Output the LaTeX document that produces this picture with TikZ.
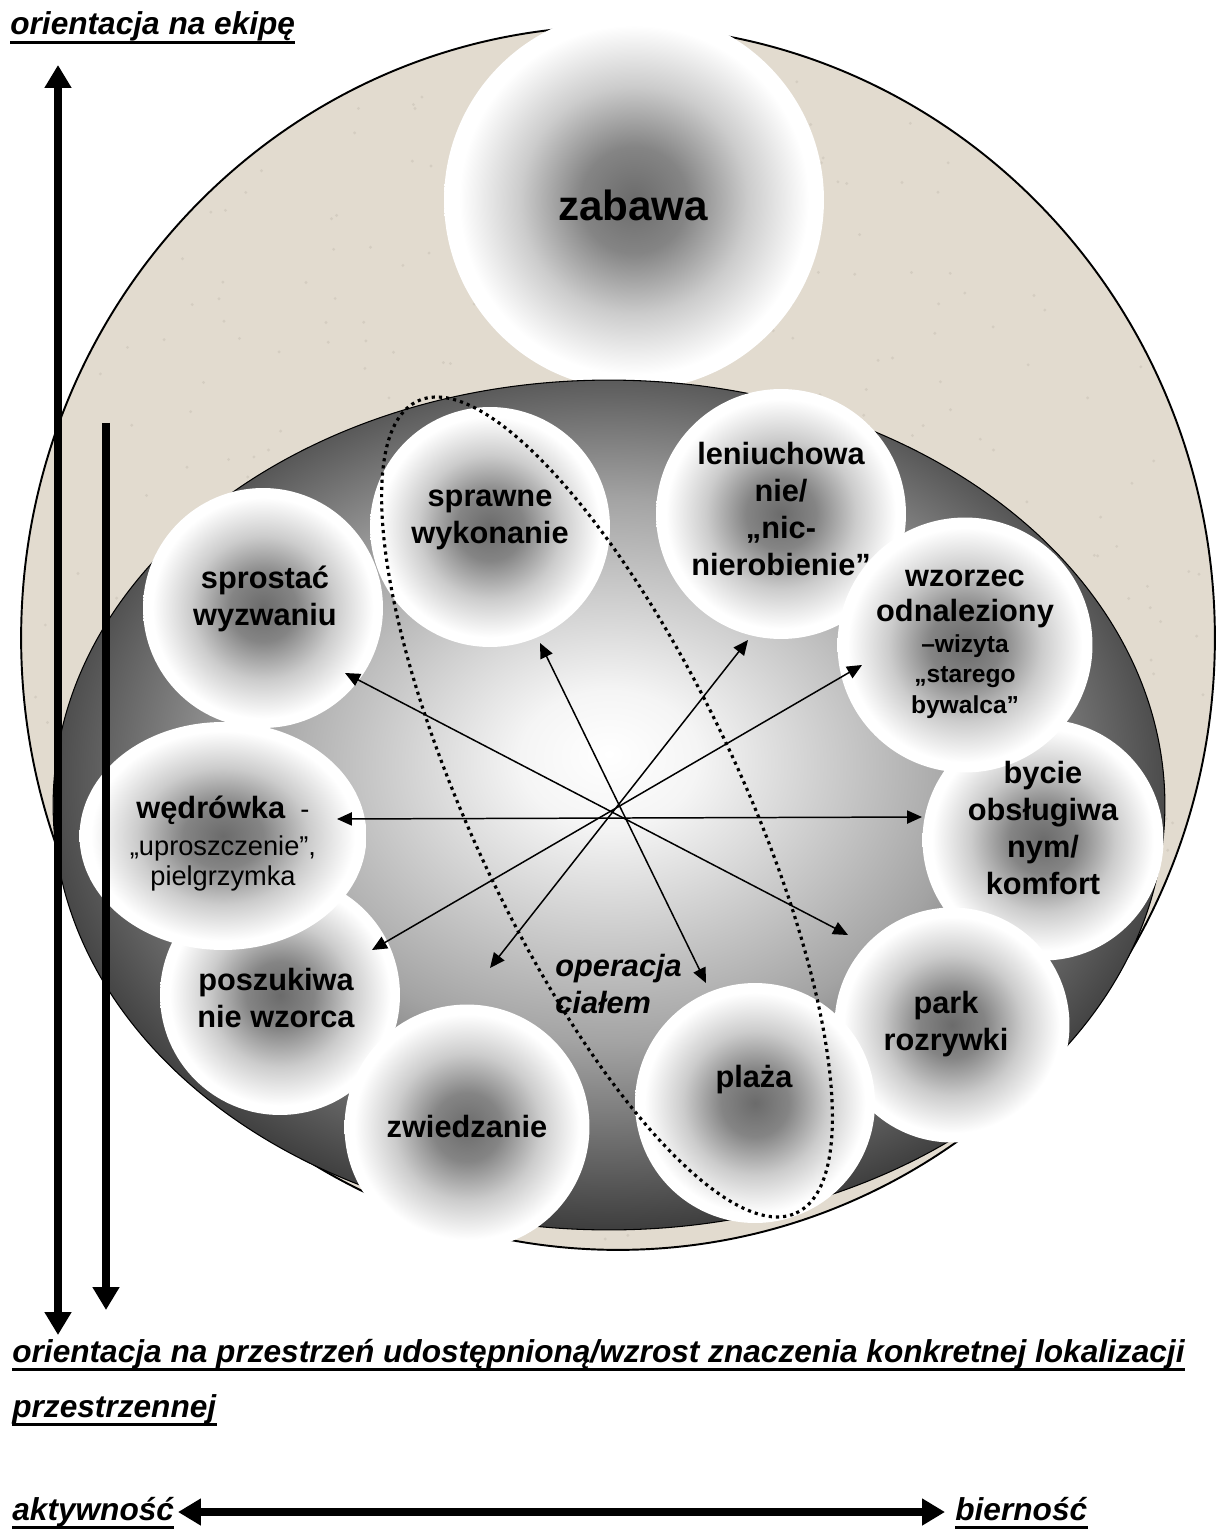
\documentclass[tikz,border=0pt]{standalone}
\usepackage{fontspec}
\setmainfont{Liberation Sans}
\usetikzlibrary{shapes.geometric,arrows.meta}
\definecolor{sand}{RGB}{226,219,207}
\definecolor{speck}{RGB}{196,188,176}
\pgfdeclareradialshading{ballshade}{\pgfpoint{0bp}{0bp}}{color(0bp)=(black!58); color(7bp)=(black!48); color(15bp)=(black!20); color(23bp)=(white); color(50bp)=(white)}
\pgfdeclareradialshading{bowlshade}{\pgfpoint{0bp}{3bp}}{color(0bp)=(white); color(4bp)=(black!4); color(16bp)=(black!36); color(27bp)=(black!78); color(50bp)=(black!80)}
\tikzset{
  ball/.style={circle, shade, shading=ballshade, inner sep=0pt, minimum size=#1},
  balltext/.style={align=center, anchor=base, inner sep=0pt, font=\fontsize{17.5}{21}\selectfont\bfseries},
  spoke/.style={<->, >={Triangle[length=8.5pt,width=7.5pt]}, line width=0.85pt},
  axisarrow/.style={line width=4.5pt, >={Triangle[length=13pt,width=14.5pt]}},
  axislabel/.style={anchor=base west, inner sep=0pt, font=\fontsize{18}{22}\selectfont\bfseries\itshape},
}
\begin{document}
\begin{tikzpicture}[x=0.02cm, y=-0.02cm]
\useasboundingbox (0,0) rectangle (1216,1533);
% field and bowl
\node[ellipse, fill=sand, draw, line width=1.1pt, minimum width=23.88cm, minimum height=24.48cm] (globe) at (618,638) {};
\pgfmathsetseed{42}
\foreach \i in {1,...,450} {
  \pgfmathsetmacro\ang{360*rnd}
  \pgfmathsetmacro\rad{0.985*sqrt(rnd)}
  \fill[speck, opacity=0.45] ({618+597*\rad*cos(\ang)},{638+612*\rad*sin(\ang)}) circle[radius=1.6];
}
\node[ball=7.6cm] (zabawa) at (634,200) {};
\node[ellipse, shade, shading=bowlshade, draw, line width=0.6pt, minimum width=22.24cm, minimum height=17cm] (bowl) at (609,805) {};
% circles
\node[ball=4.8cm] (poszuk) at (280,995) {};
\node[ellipse, shade, shading=ballshade, inner sep=0pt, minimum width=5.74cm, minimum height=4.56cm] (wedr) at (223,836) {};
\node[ball=4.8cm] (sprostac) at (263,608) {};
\node[ball=4.8cm] (sprawne) at (490,527) {};
\node[ball=5cm] (leniuch) at (781,514) {};
\node[ball=4.82cm] (bycie) at (1043,840) {};
\node[ball=5.1cm] (wzorzec) at (965,645) {};
\node[ball=4.7cm] (park) at (952,1025) {};
\node[ball=4.8cm] (plaza) at (755,1103) {};
\node[ball=4.9cm] (zwiedz) at (467,1127) {};
% spokes
\coordinate (toSprostac) at (345,673);
\coordinate (toPark) at (848,935);
\coordinate (toSprawne) at (540,643);
\coordinate (toPlaza) at (706,983);
\coordinate (toLeniuch) at (748,640);
\coordinate (toZwiedz) at (490,968);
\coordinate (toWzorzec) at (862,665);
\coordinate (toPoszuk) at (372,950);
\coordinate (toWedr) at (337,819);
\coordinate (toBycie) at (922,817);
\foreach \a/\b in {toSprostac/toPark, toSprawne/toPlaza, toLeniuch/toZwiedz, toWzorzec/toPoszuk, toWedr/toBycie}
  \draw[spoke] (\a) -- (\b);
% texts
\node[balltext, font=\fontsize{24}{28}\selectfont\bfseries] (tzabawa) at (633,221) {zabawa};
\node[balltext] (tsprawne) at (490,543) {sprawne\\wykonanie};
\node[balltext] (tleniuch) at (781,575) {leniuchowa\\nie/\\„nic-\\nierobienie”};
\node[balltext] (tsprostac) at (265,625) {sprostać\\wyzwaniu};
\node[balltext] (twzorzec) at (965,713) {wzorzec\\[-1pt]odnaleziony\\[-3.4pt]{\fontsize{14}{17}\selectfont –wizyta}\\[-3.9pt]{\fontsize{14}{17}\selectfont „starego}\\[-3.9pt]{\fontsize{14}{17}\selectfont bywalca”}};
\node[balltext, font=\fontsize{15.5}{17}\selectfont] (twedr) at (223,885) {\textbf{\fontsize{17.5}{17}\selectfont wędrówka}~ -\\[4pt]„uproszczenie”,\\pielgrzymka};
\node[balltext] (tbycie) at (1043,894) {bycie\\obsługiwa\\nym/\\komfort};
\node[balltext] (tposzuk) at (276,1027) {poszukiwa\\nie wzorca};
\node[balltext] (tpark) at (946,1050) {park\\rozrywki};
\node[balltext] (tzwiedz) at (467,1137) {zwiedzanie};
\node[balltext] (tplaza) at (754,1087) {plaża};
\node[balltext, anchor=base west, align=left, font=\fontsize{17.5}{20.5}\selectfont\bfseries\itshape] (toper) at (555,1013) {operacja\\ciałem};
% dotted ring
\node[ellipse, draw, line width=1.8pt, dash pattern=on 1.8pt off 2.3pt, rotate=-65, minimum width=17.92cm, minimum height=5.4cm] (ring) at (607,807) {};
% axes
\coordinate (teamTop) at (58,65);
\coordinate (teamBot) at (58,1335);
\coordinate (spaceTop) at (106,423);
\coordinate (spaceBot) at (106,1310);
\coordinate (actEnd) at (178,1512);
\coordinate (pasEnd) at (945,1512);
\draw[axisarrow, <->] (teamBot) -- (teamTop);
\draw[axisarrow, ->] (spaceTop) -- (spaceBot);
\draw[axisarrow, <->] (actEnd) -- (pasEnd);
% axis labels
\node[axislabel] (lblteam) at (10,35) {orientacja na ekipę};
\node[axislabel] (lblspace) at (12,1362) {orientacja na przestrzeń udostępnioną/wzrost znaczenia konkretnej lokalizacji};
\node[axislabel] (lblspacecont) at (12,1417) {przestrzennej};
\node[axislabel] (lblact) at (12,1520) {aktywność};
\node[axislabel] (lblpas) at (955,1520) {bierność};
\foreach \n in {lblteam,lblspace,lblspacecont,lblact,lblpas}
  \draw[line width=1.7pt] ([yshift=-4pt]\n.base west) -- ([yshift=-4pt]\n.base east);
\end{tikzpicture}
\end{document}
